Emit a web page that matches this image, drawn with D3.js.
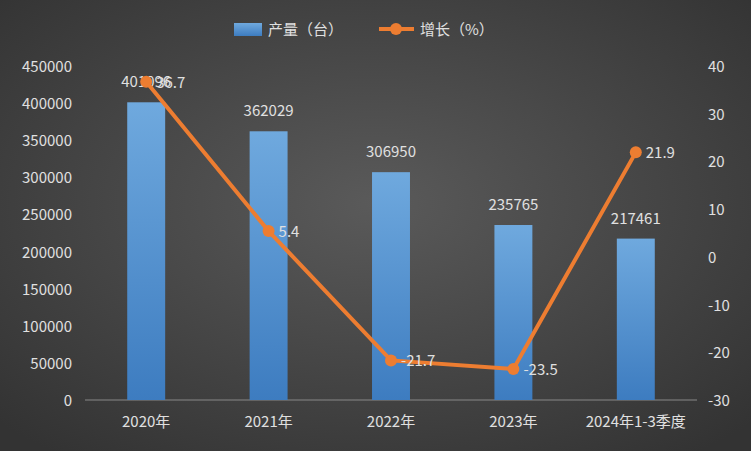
<!DOCTYPE html>
<html><head><meta charset="utf-8">
<script src="https://cdn.jsdelivr.net/npm/d3@7"></script>
<style>body{margin:0;background:#444}text{font-family:"Noto Sans CJK SC","Noto Sans",sans-serif}</style>
</head><body>
<svg id="c" width="751" height="451"></svg>
<script>
const categories = ["2020年", "2021年", "2022年", "2023年", "2024年1-3季度"];
const output = [401096, 362029, 306950, 235765, 217461];
const growth = [36.7, 5.4, -21.7, -23.5, 21.9];
const leftTicks = [0, 50000, 100000, 150000, 200000, 250000, 300000, 350000, 400000, 450000];
const rightTicks = [-30, -20, -10, 0, 10, 20, 30, 40];

const svg = d3.select("#c");
const defs = svg.append("defs");
const bg = defs.append("radialGradient").attr("id", "bg").attr("cx", "50%").attr("cy", "45%").attr("r", "70%");
bg.append("stop").attr("offset", "0%").attr("stop-color", "#5a5a5a");
bg.append("stop").attr("offset", "100%").attr("stop-color", "#333");
const bar = defs.append("linearGradient").attr("id", "bar").attr("x1", 0).attr("y1", 0).attr("x2", 0).attr("y2", 1);
bar.append("stop").attr("offset", "0%").attr("stop-color", "#6fa9de");
bar.append("stop").attr("offset", "100%").attr("stop-color", "#3d7cc0");

svg.append("rect").attr("width", 751).attr("height", 451).attr("fill", "url(#bg)");

const x = d3.scaleBand().domain(categories).range([85, 697]).paddingInner(0.69).paddingOuter(0.345);
const y = d3.scaleLinear().domain([0, 450000]).range([400, 66]);
const y2 = d3.scaleLinear().domain([-30, 40]).range([400, 66]);
const txt = "#e0e0e0";

// left axis
svg.append("g").selectAll("text").data(leftTicks).enter().append("text")
  .attr("x", 72).attr("y", d => y(d) + 6).attr("text-anchor", "end")
  .attr("fill", txt).attr("font-size", 15).text(d => d);
// right axis
svg.append("g").selectAll("text").data(rightTicks).enter().append("text")
  .attr("x", 708).attr("y", d => y2(d) + 6).attr("text-anchor", "start")
  .attr("fill", txt).attr("font-size", 15).text(d => d);
// baseline
svg.append("line").attr("x1", 85).attr("x2", 697).attr("y1", 400).attr("y2", 400).attr("stroke", "#888");
// category labels
svg.append("g").selectAll("text").data(categories).enter().append("text")
  .attr("x", d => x(d) + x.bandwidth() / 2).attr("y", 427).attr("text-anchor", "middle")
  .attr("fill", txt).attr("font-size", 15).text(d => d);

// bars
svg.append("g").selectAll("rect").data(output).enter().append("rect")
  .attr("x", (d, i) => x(categories[i])).attr("width", x.bandwidth())
  .attr("y", d => y(d)).attr("height", d => 400 - y(d)).attr("fill", "url(#bar)");
svg.append("g").selectAll("text").data(output).enter().append("text")
  .attr("x", (d, i) => x(categories[i]) + x.bandwidth() / 2).attr("y", d => y(d) - 15)
  .attr("text-anchor", "middle").attr("fill", txt).attr("font-size", 15).text(d => d);

// line
const cx = i => x(categories[i]) + x.bandwidth() / 2;
svg.append("path").datum(growth)
  .attr("d", d3.line().x((d, i) => cx(i)).y(d => y2(d)))
  .attr("fill", "none").attr("stroke", "#ed7d31").attr("stroke-width", 4);
svg.append("g").selectAll("circle").data(growth).enter().append("circle")
  .attr("cx", (d, i) => cx(i)).attr("cy", d => y2(d)).attr("r", 6).attr("fill", "#ed7d31");
svg.append("g").selectAll("text").data(growth).enter().append("text")
  .attr("x", (d, i) => cx(i) + 10).attr("y", d => y2(d) + 6)
  .attr("fill", txt).attr("font-size", 15).text(d => d);

// legend
svg.append("rect").attr("x", 234).attr("y", 23).attr("width", 28).attr("height", 13).attr("fill", "url(#bar)");
svg.append("text").attr("x", 268).attr("y", 35).attr("fill", txt).attr("font-size", 15).text("产量（台）");
svg.append("line").attr("x1", 379).attr("x2", 414).attr("y1", 29).attr("y2", 29).attr("stroke", "#ed7d31").attr("stroke-width", 4);
svg.append("circle").attr("cx", 396).attr("cy", 29).attr("r", 6).attr("fill", "#ed7d31");
svg.append("text").attr("x", 420).attr("y", 35).attr("fill", txt).attr("font-size", 15).text("增长（%）");
</script>
</body></html>
